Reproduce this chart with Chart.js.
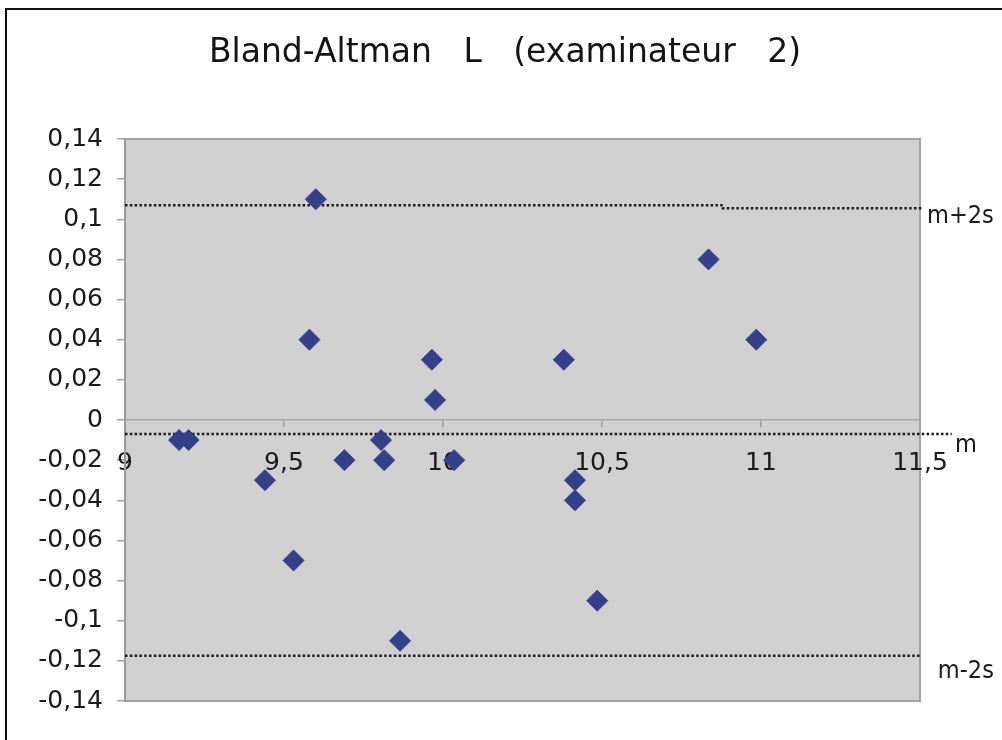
<!DOCTYPE html>
<html>
<head>
<meta charset="utf-8">
<title>Bland-Altman L (examinateur 2)</title>
<script src="https://cdn.jsdelivr.net/npm/chart.js@4.4.1/dist/chart.umd.min.js"></script>
<style>
  html, body { margin: 0; padding: 0; background: #fff; overflow: hidden; }
  #wrap { position: relative; width: 1010px; height: 740px; }
  #frame {
    position: absolute; left: 5px; top: 8px; width: 1100px; height: 800px;
    border-left: 2px solid #111; border-top: 2px solid #111; pointer-events: none;
  }
</style>
</head>
<body>
<div id="wrap">
  <canvas id="baChart" width="1010" height="740"></canvas>
  <div id="frame"></div>
</div>
<script>
// moyenne des deux mesures (axe x)
const meanValues = [9.17, 9.20, 9.44, 9.53, 9.58, 9.60, 9.69, 9.805, 9.815, 9.865,
                    9.965, 9.975, 10.035, 10.38, 10.415, 10.415, 10.485, 10.835, 10.985];
// difference entre les deux mesures (axe y)
const diffValues = [-0.01, -0.01, -0.03, -0.07, 0.04, 0.11, -0.02, -0.01, -0.02, -0.11,
                    0.03, 0.01, -0.02, 0.03, -0.03, -0.04, -0.09, 0.08, 0.04];

// lignes m, m+2s, m-2s (telles que tracees dans l'original)
const upperLineX = [9, 10.88, 10.88, 11.51];
const upperLineY = [0.107, 0.107, 0.1055, 0.1055];
const meanLineX = [9, 11.6];
const meanLineY = [-0.007, -0.007];
const lowerLineX = [9, 11.505];
const lowerLineY = [-0.1175, -0.1175];

// etiquettes des lignes
const lineLabelText = ['m+2s', 'm', 'm-2s'];
const lineLabelX = [11.522, 11.61, 11.556];
const lineLabelY = [0.1055, -0.007, -0.1175];

// axes
const xMin = 9, xMax = 11.5, xStep = 0.5;
const yMin = -0.14, yMax = 0.14, yStep = 0.02;

const toPoints = (xs, ys) => xs.map((x, i) => ({ x: x, y: ys[i] }));
const frNumber = v => parseFloat(Number(v).toFixed(2)).toString().replace('.', ',');

const tickFont = { family: '"DejaVu Sans", sans-serif', size: 25 };

// gray plot area with border
const plotBackground = {
    id: 'plotBackground',
    beforeDraw(chart) {
        const { ctx, chartArea: a } = chart;
        ctx.save();
        ctx.fillStyle = '#d0d0d0';
        ctx.fillRect(a.left, a.top, a.width, a.height);
        ctx.strokeStyle = '#a2a2a2';
        ctx.lineWidth = 2;
        ctx.strokeRect(a.left, a.top, a.width, a.height);
        ctx.restore();
    }
};

// text next to the dotted lines
const lineLabels = {
    id: 'lineLabels',
    afterDatasetsDraw(chart) {
        const { ctx, scales } = chart;
        const offsets = [15, 18, 22];
        ctx.save();
        ctx.font = '25px "DejaVu Sans Condensed", "DejaVu Sans", sans-serif';
        ctx.fillStyle = '#1a1a1a';
        ctx.textAlign = 'left';
        ctx.textBaseline = 'alphabetic';
        lineLabelText.forEach((t, i) => {
            ctx.fillText(t, scales.x.getPixelForValue(lineLabelX[i]),
                scales.y.getPixelForValue(lineLabelY[i]) + offsets[i]);
        });
        ctx.restore();
    }
};

const dotted = {
    type: 'scatter',
    showLine: true,
    borderColor: '#1c1c1c',
    borderWidth: 2.5,
    borderDash: [2.5, 2.3],
    pointRadius: 0,
    pointHoverRadius: 0,
    fill: false,
    clip: false,
    order: 2
};

new Chart(document.getElementById('baChart'), {
    type: 'scatter',
    data: {
        datasets: [
            {
                label: 'L',
                data: toPoints(meanValues, diffValues),
                pointStyle: 'rectRot',
                pointRadius: 10.5,
                pointHoverRadius: 10.5,
                backgroundColor: '#35408a',
                borderColor: '#35408a',
                borderWidth: 1,
                order: 0
            },
            Object.assign({ label: 'm+2s', data: toPoints(upperLineX, upperLineY) }, dotted),
            Object.assign({ label: 'm', data: toPoints(meanLineX, meanLineY) }, dotted),
            Object.assign({ label: 'm-2s', data: toPoints(lowerLineX, lowerLineY) }, dotted)
        ]
    },
    options: {
        responsive: false,
        animation: false,
        events: [],
        layout: { padding: { left: 0, right: 0, top: 0, bottom: 39 } },
        plugins: {
            legend: { display: false },
            tooltip: { enabled: false },
            title: {
                display: true,
                text: 'Bland-Altman   L   (examinateur   2)',
                color: '#141414',
                font: { family: '"DejaVu Sans", sans-serif', size: 33, weight: 'normal' },
                padding: { top: 34, bottom: 65.4 }
            }
        },
        scales: {
            x: {
                type: 'linear',
                position: { y: 0 },
                min: xMin,
                max: xMax,
                ticks: {
                    stepSize: xStep,
                    font: tickFont,
                    color: '#1a1a1a',
                    padding: 21,
                    maxRotation: 0,
                    callback: v => frNumber(v)
                },
                grid: {
                    drawOnChartArea: false,
                    drawTicks: true,
                    tickLength: 7,
                    color: '#a0a0a0',
                    lineWidth: 1.5
                },
                border: { display: true, color: '#a8a8a8', width: 1.5 }
            },
            y: {
                type: 'linear',
                position: 'left',
                min: yMin,
                max: yMax,
                afterFit(scale) { scale.width = 125; },
                ticks: {
                    stepSize: yStep,
                    font: tickFont,
                    color: '#1a1a1a',
                    padding: 14,
                    callback: v => frNumber(v)
                },
                grid: {
                    drawOnChartArea: false,
                    drawTicks: true,
                    tickLength: 8,
                    color: '#a0a0a0',
                    lineWidth: 1.5
                },
                border: { display: true, color: '#9a9a9a', width: 2 }
            },
            // empty right margin that keeps room for the m / m+2s / m-2s labels
            yRight: {
                type: 'linear',
                position: 'right',
                min: yMin,
                max: yMax,
                afterFit(scale) { scale.width = 90; },
                ticks: { display: false },
                grid: { display: false, drawTicks: false },
                border: { display: false }
            }
        }
    },
    plugins: [plotBackground, lineLabels]
});
</script>
</body>
</html>
